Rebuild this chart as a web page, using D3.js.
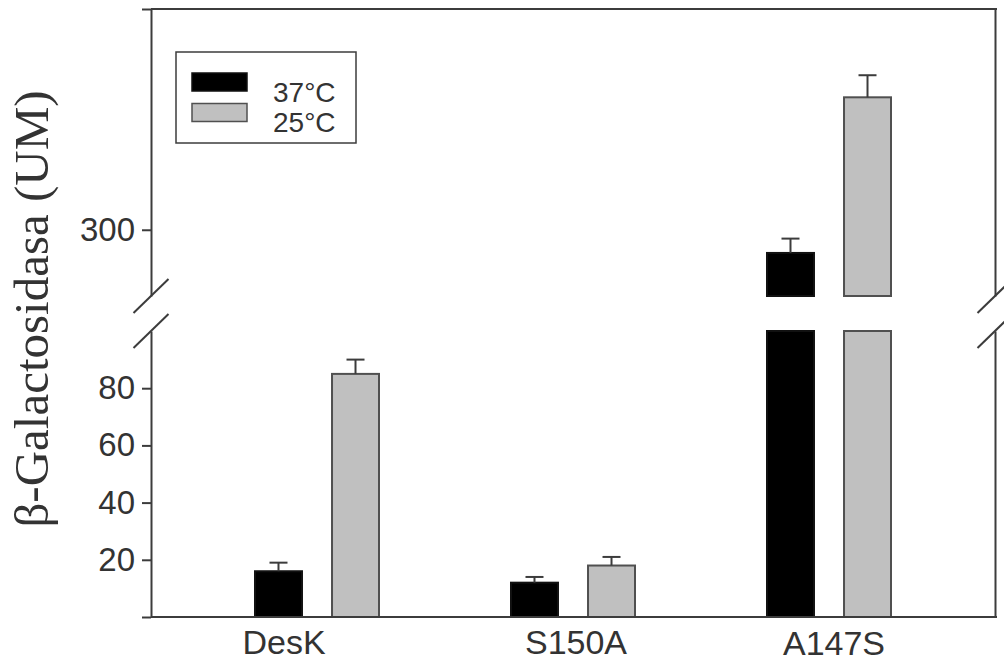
<!DOCTYPE html>
<html>
<head>
<meta charset="utf-8">
<script src="https://cdn.jsdelivr.net/npm/d3@7"></script>
<style>
  html, body { margin: 0; padding: 0; background: #fff; }
  svg { display: block; }
</style>
</head>
<body>
<svg id="chart" width="1004" height="663"></svg>
<script>
// ---- data ----
const categories = ["DesK", "S150A", "A147S"];
const seriesNames = ["37°C", "25°C"];
const values37 = [16, 12, 289.5];
const values25 = [85, 18, 360];
const errors37 = [3, 2, 6.5];
const errors25 = [5, 3, 10];
const lowerTicks = [0, 20, 40, 60, 80];
const upperTicks = [300, 400];
const lowerDomain = [0, 100];
const upperDomain = [270, 400];
const yTitle = "β-Galactosidasa (UM)";

// ---- layout / style config ----
const W = 1004, H = 663;
const axisX = 151, rightX = 995;
const lowerRange = [617, 331];
const upperRange = [296, 9];
const labelDx = [-33, 3, 5];
const labelDy = [0, 0, 1];
const axisColor = "#3c3c3c";
const textColor = "#333";
const fills = ["#000000", "#c0c0c0"];
const strokes = ["#111111", "#505050"];

const svg = d3.select("#chart");

const x = d3.scaleBand().domain(categories).range([189, 957]).paddingInner(0).paddingOuter(0);
const xInner = d3.scaleBand().domain(seriesNames).range([-62, 62]).paddingInner(0.39).paddingOuter(0);
const yLow = d3.scaleLinear().domain(lowerDomain).range(lowerRange);
const yUp = d3.scaleLinear().domain(upperDomain).range(upperRange);

const rows = [];
categories.forEach((c, i) => {
  rows.push({cat: c, s: 0, v: values37[i], e: errors37[i]});
  rows.push({cat: c, s: 1, v: values25[i], e: errors25[i]});
});

// ---- bars ----
const g = svg.append("g");
rows.forEach(d => {
  const cx = x(d.cat) + x.bandwidth() / 2;
  const bx = cx + xInner(seriesNames[d.s]);
  const bw = xInner.bandwidth();
  const lowTop = Math.min(d.v, lowerDomain[1]);
  g.append("rect")
    .attr("x", bx).attr("y", yLow(lowTop))
    .attr("width", bw).attr("height", yLow(0) - yLow(lowTop))
    .attr("fill", fills[d.s]).attr("stroke", strokes[d.s]).attr("stroke-width", 2);
  let ys;
  if (d.v > lowerDomain[1]) {
    g.append("rect")
      .attr("x", bx).attr("y", yUp(d.v))
      .attr("width", bw).attr("height", yUp(upperDomain[0]) - yUp(d.v))
      .attr("fill", fills[d.s]).attr("stroke", strokes[d.s]).attr("stroke-width", 2);
    ys = yUp;
  } else {
    ys = yLow;
  }
  const ex = bx + bw / 2;
  g.append("line")
    .attr("x1", ex).attr("x2", ex)
    .attr("y1", ys(d.v)).attr("y2", ys(d.v + d.e))
    .attr("stroke", axisColor).attr("stroke-width", 2);
  g.append("line")
    .attr("x1", ex - 9).attr("x2", ex + 9)
    .attr("y1", ys(d.v + d.e)).attr("y2", ys(d.v + d.e))
    .attr("stroke", axisColor).attr("stroke-width", 2);
});

// ---- axes ----
function styleAxis(sel) {
  sel.selectAll("path, line").attr("stroke", axisColor).attr("stroke-width", 2);
  sel.selectAll("text").attr("fill", textColor)
    .style("font-family", "Liberation Sans, Arial, sans-serif");
}

const axLow = svg.append("g").attr("transform", `translate(${axisX},0)`)
  .call(d3.axisLeft(yLow).tickValues(lowerTicks).tickSize(9).tickSizeOuter(0).tickPadding(7)
    .tickFormat(v => v === 0 ? "" : v));
styleAxis(axLow);
axLow.selectAll("text").style("font-size", "33px");

const axUp = svg.append("g").attr("transform", `translate(${axisX},0)`)
  .call(d3.axisLeft(yUp).tickValues(upperTicks).tickSize(9).tickSizeOuter(0).tickPadding(7)
    .tickFormat(v => v === upperDomain[1] ? "" : v));
styleAxis(axUp);
axUp.selectAll("text").style("font-size", "33px");

// right axis segments (no ticks)
const axRL = svg.append("g").attr("transform", `translate(${rightX},0)`)
  .call(d3.axisRight(yLow).tickValues([]).tickSizeOuter(0));
styleAxis(axRL);
const axRU = svg.append("g").attr("transform", `translate(${rightX},0)`)
  .call(d3.axisRight(yUp).tickValues([]).tickSizeOuter(0));
styleAxis(axRU);

// bottom axis
const axB = svg.append("g").attr("transform", `translate(0,${yLow(0)})`)
  .call(d3.axisBottom(x).tickSize(0).tickSizeOuter(0).tickPadding(0));
axB.select(".domain").attr("d", `M${axisX},0H${rightX + 2}`);
styleAxis(axB);
axB.selectAll(".tick text")
  .style("font-size", "34px")
  .attr("dy", null)
  .attr("y", (d, i) => 37 + labelDy[i])
  .attr("x", (d, i) => labelDx[i]);

// top border
svg.append("line")
  .attr("x1", axisX).attr("x2", rightX + 2)
  .attr("y1", yUp(upperDomain[1])).attr("y2", yUp(upperDomain[1]))
  .attr("stroke", axisColor).attr("stroke-width", 2);

// break slashes
[axisX, rightX].forEach(ax => {
  [yUp(upperDomain[0]), yLow(lowerDomain[1])].forEach(yy => {
    svg.append("line")
      .attr("x1", ax - 17.5).attr("y1", yy + 17)
      .attr("x2", ax + 17.5).attr("y2", yy - 17)
      .attr("stroke", axisColor).attr("stroke-width", 2);
  });
});

// ---- legend ----
const lg = svg.append("g");
lg.append("rect").attr("x", 176).attr("y", 52).attr("width", 180).attr("height", 91)
  .attr("fill", "#fff").attr("stroke", axisColor).attr("stroke-width", 1.5);
seriesNames.forEach((s, i) => {
  lg.append("rect").attr("x", 192).attr("y", 73 + i * 30.5).attr("width", 55).attr("height", 18)
    .attr("fill", fills[i]).attr("stroke", strokes[i]).attr("stroke-width", 1.5);
  lg.append("text").attr("x", 273).attr("y", 102 + i * 30)
    .attr("fill", textColor)
    .style("font-family", "Liberation Sans, Arial, sans-serif")
    .style("font-size", "28px")
    .text(s);
});

// ---- y title ----
svg.append("text")
  .attr("transform", `translate(48,309) rotate(-90)`)
  .attr("text-anchor", "middle")
  .attr("fill", textColor)
  .style("font-family", "Liberation Serif, 'Times New Roman', serif")
  .style("font-size", "49px")
  .text(yTitle);
</script>
</body>
</html>
